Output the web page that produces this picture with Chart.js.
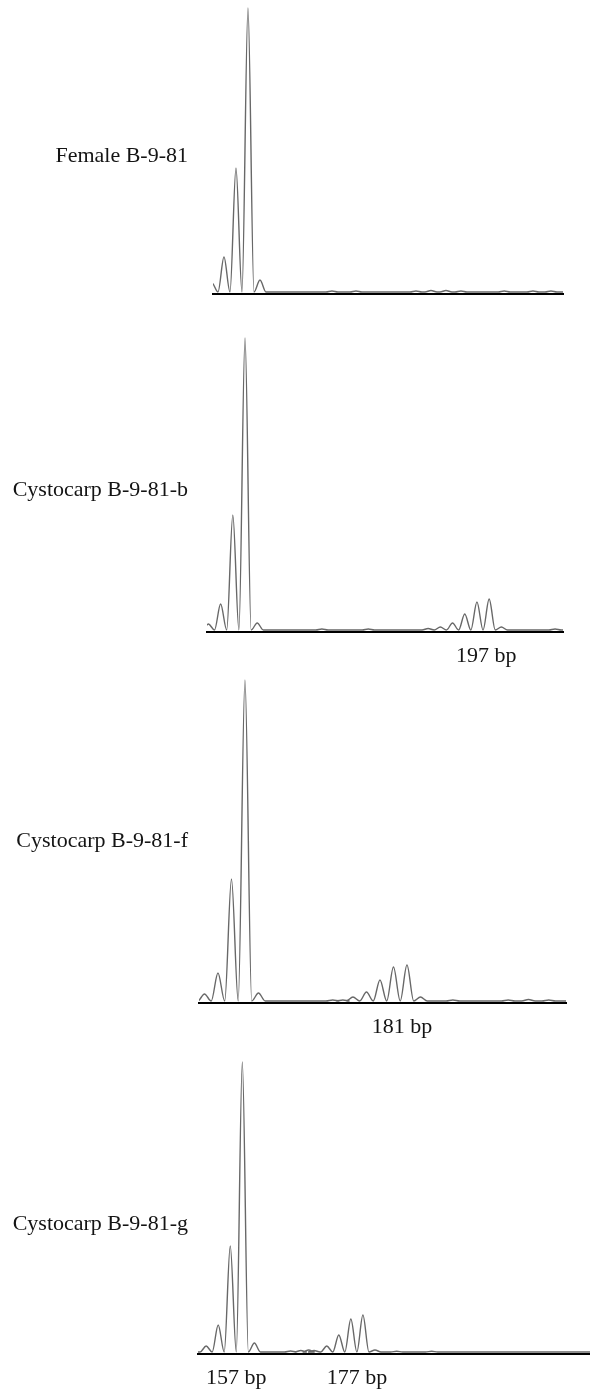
<!DOCTYPE html>
<html>
<head>
<meta charset="utf-8">
<script src="https://cdn.jsdelivr.net/npm/chart.js@4.4.1/dist/chart.umd.min.js"></script>
<style>
  html, body { margin: 0; padding: 0; background: #fff; }
  #wrap { position: relative; width: 590px; height: 1394px; overflow: hidden; }
  #wrap canvas { position: absolute; left: 0; }
  .name {
    position: absolute; right: 402px; white-space: nowrap;
    font: 22px "Liberation Serif", "Times New Roman", serif;
    line-height: 22px; color: #141414; z-index: 2;
  }
</style>
</head>
<body>
<div id="wrap"></div>
<script>
// sample names shown left of each trace
const sampleNames = ["Female B-9-81", "Cystocarp B-9-81-b", "Cystocarp B-9-81-f", "Cystocarp B-9-81-g"];

// peak positions (bp) and peak heights (rfu)
const femaleBp = [151, 153, 155, 157, 159, 171, 175, 185, 187.5, 190, 192.5, 199.7, 204.5, 207.5];
const femaleHeight = [9, 35, 124, 284, 12, 1, 1, 1, 1.5, 1.5, 1, 1, 1, 1];

const cystoBBp = [151, 153, 155, 157, 159, 169.6, 177.2, 187, 189, 191, 193, 195, 197, 199, 207.8];
const cystoBHeight = [6, 26, 115, 292, 7, 1, 1, 1.5, 3, 7, 16, 28, 31, 3, 1];

const cystoFBp = [151, 153, 155, 157, 159, 170, 171.5, 173, 175, 177, 179, 181, 183, 187.8, 196, 199, 202];
const cystoFHeight = [7, 28, 122, 321, 8, 1, 1, 4, 9, 21, 34, 36, 4, 1, 1, 1.5, 1];

const cystoGBp = [151, 153, 155, 157, 159, 165, 166.7, 168, 168.9, 171, 173, 175, 177, 179, 182.6, 188.4];
const cystoGHeight = [6, 27, 106, 290, 9, 1, 1.5, 2, 1.5, 6, 17, 33, 37, 2, 0.7, 0.7];

// allele sizes labelled under the axis
const femaleTicks = [];
const cystoBTicks = [197];
const cystoFTicks = [181];
const cystoGTicks = [157, 177];

const PEAK_HALF_WIDTH = 1.0;

function buildTrace(bp, height, from, to) {
  const pts = [{ x: from, y: 0 }];
  bp.forEach((b, i) => {
    pts.push({ x: b - PEAK_HALF_WIDTH, y: 0 }, { x: b, y: height[i] }, { x: b + PEAK_HALF_WIDTH, y: 0 });
  });
  pts.push({ x: to, y: 0 });
  return pts;
}

const panels = [
  { name: sampleNames[0], bp: femaleBp, height: femaleHeight, ticks: femaleTicks,
    min: 151.17, max: 209.5, top: 0, h: 334, left: 213, right: 27, labelOffset: 0, nameY: 144 },
  { name: sampleNames[1], bp: cystoBBp, height: cystoBHeight, ticks: cystoBTicks,
    min: 150.77, max: 209.1, top: 334, h: 338, left: 207, right: 27, labelOffset: -3, nameY: 478 },
  { name: sampleNames[2], bp: cystoFBp, height: cystoFHeight, ticks: cystoFTicks,
    min: 150.19, max: 204.56, top: 672, h: 371, left: 199, right: 24, labelOffset: -5, nameY: 829 },
  { name: sampleNames[3], bp: cystoGBp, height: cystoGHeight, ticks: cystoGTicks,
    min: 149.65, max: 214.66, top: 1043, h: 351, left: 198, right: 0, labelOffset: -6, nameY: 1212 }
];

const AXIS_BOX = 40;
const wrap = document.getElementById("wrap");

panels.forEach((p) => {
  const label = document.createElement("div");
  label.className = "name";
  label.style.top = p.nameY + "px";
  label.textContent = p.name;
  wrap.appendChild(label);

  const canvas = document.createElement("canvas");
  canvas.width = 590;
  canvas.height = p.h;
  canvas.style.top = p.top + "px";
  canvas.style.width = "590px";
  canvas.style.height = p.h + "px";
  wrap.appendChild(canvas);

  const areaHeight = p.h - AXIS_BOX;

  new Chart(canvas.getContext("2d"), {
    type: "line",
    data: {
      datasets: [{
        data: buildTrace(p.bp, p.height, p.min - 3, p.max + 3),
        borderColor: "#686868",
        borderWidth: 1.4,
        pointRadius: 0,
        fill: false,
        cubicInterpolationMode: "monotone"
      }]
    },
    options: {
      responsive: false,
      maintainAspectRatio: false,
      animation: false,
      layout: { padding: { left: p.left, right: p.right, top: 0, bottom: 0 } },
      plugins: { legend: { display: false }, tooltip: { enabled: false } },
      scales: {
        x: {
          type: "linear",
          min: p.min,
          max: p.max,
          grid: { display: false, drawTicks: false },
          border: { display: true, color: "#000", width: 2 },
          afterFit: (s) => { s.height = AXIS_BOX; },
          afterBuildTicks: (s) => { s.ticks = p.ticks.map((v) => ({ value: v })); },
          ticks: {
            display: p.ticks.length > 0,
            padding: 11,
            labelOffset: p.labelOffset,
            maxRotation: 0,
            autoSkip: false,
            color: "#141414",
            font: { family: "'Liberation Serif', 'Times New Roman', serif", size: 22 },
            callback: (v) => v + " bp"
          }
        },
        y: { display: false, min: -2, max: areaHeight - 2 }
      }
    }
  });
});
</script>
</body>
</html>
